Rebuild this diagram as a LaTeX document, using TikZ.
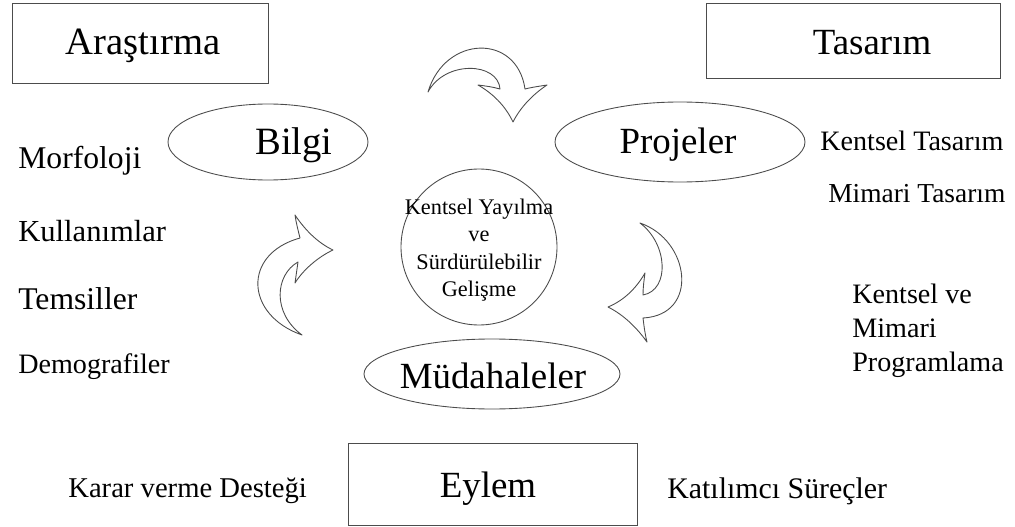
\documentclass[tikz,border=0pt]{standalone}
\usepackage{fontspec}
\setmainfont{Liberation Serif}
\usetikzlibrary{shapes.geometric}
\begin{document}
\begin{tikzpicture}[x=0.02cm,y=-0.02cm,
  line/.style={draw=black!70,line width=0.5pt},
  box/.style={line,rectangle,inner sep=0pt},
  oval/.style={line,ellipse,inner sep=0pt},
  big/.style={font=\fontsize{21}{25}\selectfont},
  side/.style={anchor=west,inner sep=0pt,font=\fontsize{16}{19}\selectfont},
  carrow/.style={line,fill=white,line join=round}]
\useasboundingbox (0,0) rectangle (1015,527);
% boxes
\node[box,minimum width=256*0.02cm,minimum height=80*0.02cm] (arbox) at (140,43) {};
\node[big,font=\fontsize{22}{26}\selectfont] (ar) at (143,46) {Araştırma};
\node[box,minimum width=294*0.02cm,minimum height=75*0.02cm] (tabox) at (853,40.5) {};
\node[big] (ta) at (872,43) {Tasarım};
\node[box,minimum width=289*0.02cm,minimum height=82*0.02cm] (eybox) at (492.5,484) {};
\node[big] (ey) at (488,489) {Eylem};
% ellipses
\node[oval,minimum width=200*0.02cm,minimum height=76*0.02cm] (bilgi) at (268,142) {};
\node[big,font=\fontsize{22}{26}\selectfont] (bilgit) at (294,145) {Bilgi};
\node[oval,minimum width=250*0.02cm,minimum height=80*0.02cm] (proj) at (680,142) {};
\node[big] (projt) at (678,145) {Projeler};
\node[oval,minimum width=256*0.02cm,minimum height=70*0.02cm] (mud) at (492,374) {};
\node[big] (mudt) at (493,376) {Müdahaleler};
% circle
\node[line,circle,minimum size=156*0.02cm,inner sep=0pt] (cc) at (479,247) {};
\node[align=center,font=\fontsize{12.7}{15.6}\selectfont,inner sep=0pt] (cct) at (479,250)
  {Kentsel Yayılma\\ve\\Sürdürülebilir\\Gelişme};
% side texts
\node[side,font=\fontsize{18}{21}\selectfont] (t1) at (18,161) {Morfoloji};
\node[side,font=\fontsize{17.4}{21}\selectfont] (t2) at (18,231) {Kullanımlar};
\node[side,font=\fontsize{18}{21}\selectfont] (t3) at (18,299) {Temsiller};
\node[side] (t4) at (18,367) {Demografiler};
\node[side] (t5) at (820,141) {Kentsel Tasarım};
\node[side,font=\fontsize{15.6}{19}\selectfont] (t6) at (828,194) {Mimari Tasarım};
\node[side,align=left,font=\fontsize{16}{19.2}\selectfont] (t7) at (852,331) {Kentsel ve\\Mimari\\Programlama};
\node[side,font=\fontsize{16.3}{19}\selectfont] (t8) at (68,491) {Karar verme Desteği};
\node[side,font=\fontsize{17}{19}\selectfont] (t9) at (667,491) {Katılımcı Süreçler};
% curved block arrows
\draw[carrow] (428,92) .. controls (445,35) and (517,33) .. (525,89)
  .. controls (533,87) and (541,86) .. (547,85)
  .. controls (532,95) and (520,108) .. (513,122)
  .. controls (505,105) and (492,93) .. (478,85)
  .. controls (486,86) and (493,87) .. (500,89)
  .. controls (498,62) and (445,60) .. (428,92) -- cycle;
\draw[carrow] (302,335) .. controls (245,315) and (242,254) .. (300,238)
  .. controls (298,230) and (296,222) .. (295,215)
  .. controls (305,230) and (318,243) .. (333,250)
  .. controls (318,257) and (303,270) .. (295,283)
  .. controls (296,276) and (297,269) .. (298,262)
  .. controls (275,275) and (272,313) .. (302,335) -- cycle;
\draw[carrow] (640,223) .. controls (690,240) and (700,315) .. (643,318)
  .. controls (644,326) and (645,334) .. (647,342)
  .. controls (637,328) and (624,315) .. (608,307)
  .. controls (625,300) and (637,287) .. (645,273)
  .. controls (644,280) and (643,288) .. (643,295)
  .. controls (670,290) and (668,244) .. (640,223) -- cycle;
\end{tikzpicture}
\end{document}
